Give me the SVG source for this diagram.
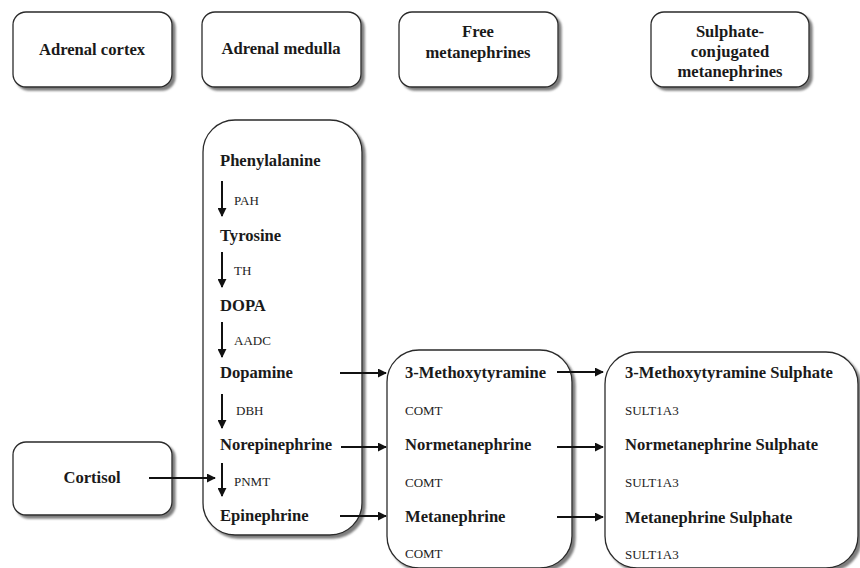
<svg xmlns="http://www.w3.org/2000/svg" width="860" height="568" viewBox="0 0 860 568">
<style>
.box{fill:#fff;stroke:#2a2a2a;stroke-width:1.3;filter:url(#sh)}
.b{font-family:"Liberation Serif","Times New Roman","DejaVu Serif",serif;font-weight:bold;font-size:16.6px;fill:#1a1a1a}
.h{text-anchor:middle}
.s{font-family:"Liberation Serif","Times New Roman","DejaVu Serif",serif;font-size:13px;fill:#222}
.ar{stroke:#111;stroke-width:2;fill:none;marker-end:url(#ah)}
</style>
<defs>
<filter id="sh" x="-10%" y="-10%" width="130%" height="130%">
<feDropShadow dx="3" dy="3" stdDeviation="1.2" flood-color="#666" flood-opacity="0.85"/>
</filter>
<marker id="ah" viewBox="0 0 10 10" refX="9" refY="5" markerWidth="4.5" markerHeight="4.5" orient="auto" markerUnits="strokeWidth">
<path d="M0,0 L10,5 L0,10 z" fill="#111"/>
</marker>
</defs>

<g id="hdr-cortex"><rect class="box" x="13" y="12" width="159" height="75" rx="13"/><text class="b h" x="92" y="55">Adrenal cortex</text></g>
<g id="hdr-medulla"><rect class="box" x="202" y="12" width="159" height="75" rx="13"/><text class="b h" x="281" y="54">Adrenal medulla</text></g>
<g id="hdr-free"><rect class="box" x="399" y="12" width="159" height="75" rx="13"/><text class="b h" x="478" y="37">Free</text><text class="b h" x="478" y="58">metanephrines</text></g>
<g id="hdr-sulph"><rect class="box" x="651" y="12" width="158" height="75" rx="13"/><text class="b h" x="730" y="37">Sulphate-</text><text class="b h" x="730" y="57">conjugated</text><text class="b h" x="730" y="77">metanephrines</text></g>

<g id="medulla">
<rect class="box" x="203" y="120" width="159" height="415" rx="32"/>
<text class="b" x="220" y="166">Phenylalanine</text>
<text class="s" x="234" y="205">PAH</text>
<text class="b" x="220" y="241">Tyrosine</text>
<text class="s" x="234" y="275">TH</text>
<text class="b" x="220" y="311">DOPA</text>
<text class="s" x="234" y="345">AADC</text>
<text class="b" x="220" y="378">Dopamine</text>
<text class="s" x="236" y="415">DBH</text>
<text class="b" x="220" y="450">Norepinephrine</text>
<text class="s" x="234" y="486">PNMT</text>
<text class="b" x="220" y="521">Epinephrine</text>
</g>

<g id="cortisol"><rect class="box" x="13" y="442" width="159" height="73" rx="13"/><text class="b h" x="92" y="483">Cortisol</text></g>

<g id="free">
<rect class="box" x="387" y="350" width="185" height="218" rx="32"/>
<text class="b" x="405" y="378">3-Methoxytyramine</text>
<text class="s" x="405" y="415">COMT</text>
<text class="b" x="405" y="450">Normetanephrine</text>
<text class="s" x="405" y="487">COMT</text>
<text class="b" x="405" y="522">Metanephrine</text>
<text class="s" x="405" y="558">COMT</text>
</g>

<g id="sulph">
<rect class="box" x="605" y="352" width="253" height="216" rx="32"/>
<text class="b" x="625" y="378">3-Methoxytyramine Sulphate</text>
<text class="s" x="625" y="415">SULT1A3</text>
<text class="b" x="625" y="450">Normetanephrine Sulphate</text>
<text class="s" x="625" y="487">SULT1A3</text>
<text class="b" x="625" y="523">Metanephrine Sulphate</text>
<text class="s" x="625" y="559">SULT1A3</text>
</g>

<g id="connectors">
<line class="ar" x1="222" y1="181" x2="222" y2="216"/>
<line class="ar" x1="222" y1="252" x2="222" y2="287"/>
<line class="ar" x1="222" y1="322" x2="222" y2="357"/>
<line class="ar" x1="222" y1="394" x2="222" y2="428"/>
<line class="ar" x1="222" y1="463" x2="222" y2="496"/>
<line class="ar" x1="340" y1="373" x2="386" y2="373"/>
<line class="ar" x1="341" y1="447" x2="386" y2="447"/>
<line class="ar" x1="340" y1="516" x2="386" y2="516"/>
<line class="ar" x1="557" y1="372" x2="603" y2="372"/>
<line class="ar" x1="557" y1="447" x2="603" y2="447"/>
<line class="ar" x1="557" y1="517" x2="603" y2="517"/>
<line class="ar" x1="149" y1="478" x2="215" y2="478"/>
</g>
</svg>
